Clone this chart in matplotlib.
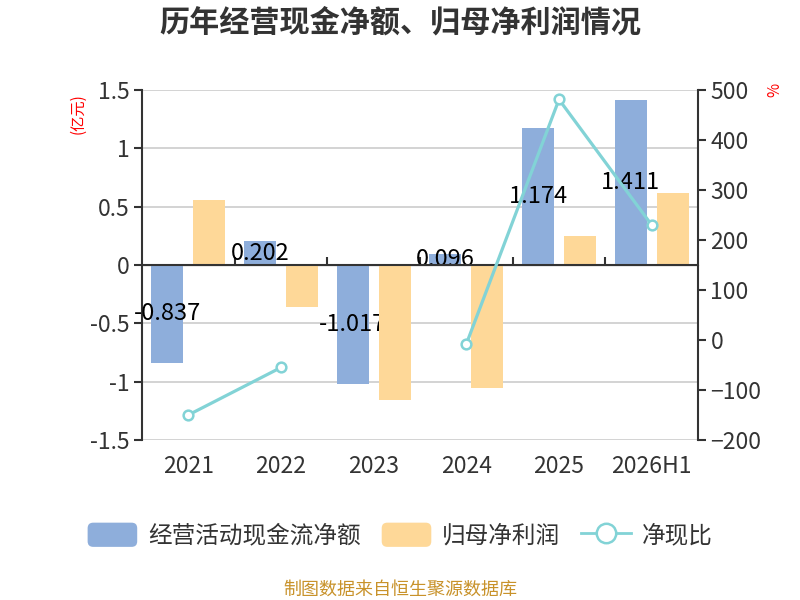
import numpy as np
import matplotlib
matplotlib.use('Agg')
import matplotlib.pyplot as plt
from matplotlib.patches import Patch, FancyBboxPatch
from matplotlib.lines import Line2D
from matplotlib.legend_handler import HandlerPatch

plt.rcParams['font.family'] = ['Noto Sans CJK SC', 'DejaVu Sans']

# дані з картинки
years = ['2021', '2022', '2023', '2024', '2025', '2026H1']
cash_flow = [-0.837, 0.202, -1.017, 0.096, 1.174, 1.411]   # 经营活动现金流净额, 亿元
net_profit = [0.557, -0.357, -1.157, -1.057, 0.249, 0.614]  # 归母净利润, 亿元
cash_ratio = [-150, -55, np.nan, -8, 481, 230]              # 净现比, %

blue = '#8eaedb'
orange = '#fed898'
teal = '#82d3d6'
text_c = '#333333'


class RoundHandler(HandlerPatch):  # закруглені прямокутники в легенді
    def create_artists(self, legend, orig_handle, xdescent, ydescent,
                       width, height, fontsize, trans):
        p = FancyBboxPatch((-xdescent, -ydescent), width, height,
                           boxstyle='round,pad=0,rounding_size=4',
                           facecolor=orig_handle.get_facecolor(),
                           edgecolor='none', transform=trans)
        return [p]


fig = plt.figure(figsize=(8, 6), dpi=100)
ax = fig.add_axes([0.1775, 0.2667, 0.695, 0.5833])
x = np.arange(len(years))
w = 0.345
off = 0.227

ax.bar(x - off, cash_flow, w, color=blue, zorder=3)
for xi, v in zip(x, cash_flow):
    ax.text(xi - off, v / 2, f'{v:.3f}', ha='center', va='center',
            fontsize=17, color='black', zorder=3.5)
ax.bar(x + off, net_profit, w, color=orange, zorder=4)

ax.set_xlim(-0.5, len(years) - 0.5)
ax.set_ylim(-1.5, 1.5)
ax.set_yticks([-1.5, -1, -0.5, 0, 0.5, 1, 1.5])
ax.set_yticklabels(['-1.5', '-1', '-0.5', '0', '0.5', '1', '1.5'])
ax.grid(axis='y', color='#cccccc', linewidth=1.2, zorder=0)
ax.set_xticks(x)
ax.set_xticklabels(years)
ax.tick_params(axis='x', length=0, pad=11, labelsize=16.5, colors=text_c)
ax.tick_params(axis='y', length=6, width=1.5, labelsize=16.5, colors=text_c, pad=3)
for s in ['top', 'right', 'bottom']:
    ax.spines[s].set_visible(False)
ax.spines['left'].set_color(text_c)
ax.spines['left'].set_linewidth(1.5)

# вісь x на нулі з рисками між категоріями
ax.axhline(0, color=text_c, linewidth=1.5, zorder=4.5)
sec = ax.secondary_xaxis(0.5)
sec.set_xticks(x[:-1] + 0.5)
sec.set_xticklabels([])
sec.tick_params(length=6, width=1.5, color=text_c)
sec.spines['bottom'].set_visible(False)

ax2 = ax.twinx()
ax2.set_ylim(-200, 500)
ax2.set_yticks(range(-200, 501, 100))
ax2.plot(x, cash_ratio, color=teal, linewidth=2.3, marker='o', markersize=7,
         markerfacecolor='white', markeredgecolor=teal, markeredgewidth=1.8, zorder=5)
for s in ['top', 'left', 'bottom']:
    ax2.spines[s].set_visible(False)
ax2.spines['right'].set_color(text_c)
ax2.spines['right'].set_linewidth(1.5)
ax2.tick_params(axis='y', length=6, width=1.5, labelsize=16.5, colors=text_c, pad=3)

fig.text(0.5, 0.962, '历年经营现金净额、归母净利润情况', ha='center', va='center',
         fontsize=21.7, fontweight='bold', color=text_c)
fig.text(0.098, 0.81, '(亿元)', rotation=90, ha='center', va='center',
         fontsize=11, color='red')
fig.text(0.968, 0.85, '%', rotation=90, ha='center', va='center',
         fontsize=11, color='red')

handles = [
    Patch(facecolor=blue, edgecolor='none', label='经营活动现金流净额'),
    Patch(facecolor=orange, edgecolor='none', label='归母净利润'),
    Line2D([], [], color=teal, linewidth=2, marker='o', markersize=14,
           markerfacecolor='white', markeredgecolor=teal, markeredgewidth=1.8, label='净现比'),
]
leg = fig.legend(handles=handles, loc='center', bbox_to_anchor=(0.5, 0.108), ncol=3,
                 frameon=False, fontsize=17, handlelength=2.1, handleheight=1.2,
                 columnspacing=0.9, handletextpad=0.45,
                 handler_map={Patch: RoundHandler()})
for t in leg.get_texts():
    t.set_color(text_c)

fig.text(0.5, 0.018, '制图数据来自恒生聚源数据库', ha='center', va='center',
         fontsize=13, color='#c8922a')

fig.savefig('out.png', dpi=100)
